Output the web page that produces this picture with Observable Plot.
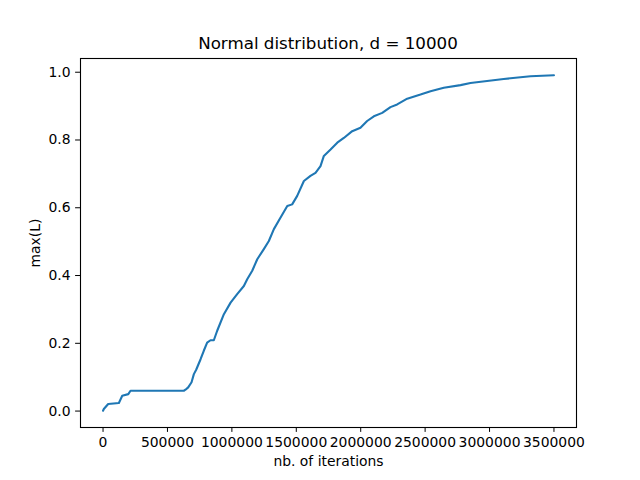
<!DOCTYPE html>
<html>
<head>
<meta charset="utf-8">
<script src="https://cdn.jsdelivr.net/npm/d3@7"></script>
<script src="https://cdn.jsdelivr.net/npm/@observablehq/plot@0.6"></script>
<style>
  body { margin: 0; background: #fff; font-family: "DejaVu Sans", sans-serif; }
  #wrap { position: relative; width: 640px; height: 480px; }
  #title { position: absolute; top: 33px; left: 80px; width: 496px; text-align: center;
           font-size: 16.7px; color: #000; line-height: 20px; }
</style>
</head>
<body>
<div id="wrap"><div id="title">Normal distribution, d = 10000</div></div>
<script>
const iterations = [0, 6000, 40000, 123000, 149000, 196000, 213000, 627000, 640000, 661000, 687000, 705000, 723000, 757000, 782000, 808000, 834000, 860000, 886000, 938000, 990000, 1041000, 1093000, 1119000, 1158000, 1197000, 1248000, 1287000, 1326000, 1378000, 1430000, 1468000, 1507000, 1559000, 1610000, 1649000, 1688000, 1714000, 1766000, 1818000, 1869000, 1934000, 1998000, 2050000, 2102000, 2167000, 2231000, 2283000, 2361000, 2464000, 2542000, 2645000, 2775000, 2852000, 3110000, 3318000, 3500000];
const maxL = [0.001, 0.006, 0.021, 0.024, 0.045, 0.050, 0.060, 0.060, 0.063, 0.070, 0.085, 0.109, 0.122, 0.153, 0.178, 0.202, 0.209, 0.209, 0.237, 0.286, 0.320, 0.345, 0.369, 0.389, 0.414, 0.448, 0.478, 0.502, 0.537, 0.571, 0.605, 0.610, 0.635, 0.679, 0.694, 0.703, 0.723, 0.753, 0.772, 0.792, 0.806, 0.826, 0.836, 0.856, 0.870, 0.880, 0.897, 0.905, 0.922, 0.934, 0.944, 0.954, 0.962, 0.968, 0.980, 0.988, 0.991];
const xTicks = [0, 500000, 1000000, 1500000, 2000000, 2500000, 3000000, 3500000];
const yTicks = [0.0, 0.2, 0.4, 0.6, 0.8, 1.0];

const data = iterations.map((x, i) => ({x, y: maxL[i]}));
const xMin = 0, xMax = 3500000, yMin = d3.min(maxL), yMax = d3.max(maxL);
const xPad = (xMax - xMin) * 0.05, yPad = (yMax - yMin) * 0.05;

const chart = Plot.plot({
  width: 640,
  height: 480,
  marginLeft: 80,
  marginRight: 64,
  marginTop: 58,
  marginBottom: 53,
  style: {fontFamily: "DejaVu Sans, sans-serif", fontSize: "13.9px", color: "#000", background: "transparent"},
  x: {domain: [xMin - xPad, xMax + xPad]},
  y: {domain: [yMin - yPad, yMax + yPad]},
  marks: [
    Plot.axisX({ticks: xTicks, tickFormat: d3.format("d"), tickSize: 4.9, tickPadding: 5, label: "nb. of iterations", labelAnchor: "center", labelArrow: "none", labelOffset: 38, fontSize: 13.9}),
    Plot.axisY({ticks: yTicks, tickFormat: d3.format(".1f"), tickSize: 4.9, tickPadding: 5, label: "max(L)", labelAnchor: "center", labelArrow: "none", labelOffset: 50, fontSize: 13.9}),
    Plot.line(data, {x: "x", y: "y", stroke: "#1f77b4", strokeWidth: 2.1}),
    Plot.frame({stroke: "#000", strokeWidth: 1.1})
  ]
});
document.getElementById("wrap").prepend(chart);
chart.style.position = "absolute";
chart.style.top = "0";
chart.style.left = "0";
</script>
</body>
</html>
